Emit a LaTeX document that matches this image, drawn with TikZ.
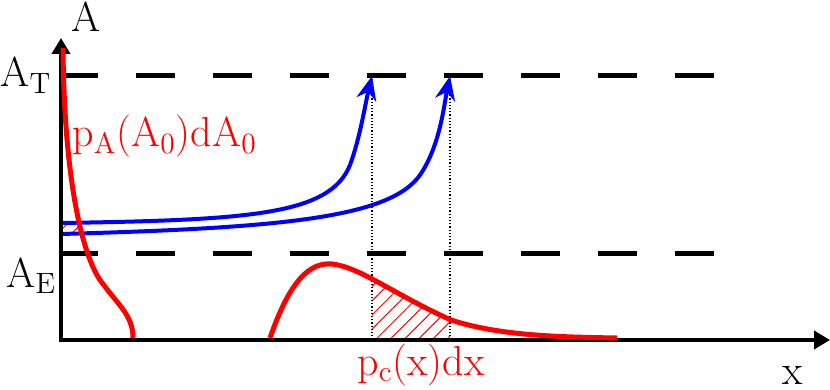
\documentclass[tikz,border=0pt]{standalone}
\usepackage{tikz}
\usetikzlibrary{arrows.meta, patterns.meta}

\begin{document}
\begin{tikzpicture}[x=0.5pt, y=-0.5pt,
  axis/.style={line width=2pt, -{Triangle[length=8pt, width=9pt]}},
  level/.style={line width=2.5pt, dash pattern=on 19.5pt off 19pt},
  pdf/.style={red, line width=2.5pt},
  traj/.style={blue, line width=2pt, -{Stealth[length=12pt, width=10pt]}},
  guide/.style={densely dotted, line width=0.6pt},
  hatch/.style={pattern={Lines[angle=45, distance=5pt, line width=0.5pt]}, pattern color=red},
  lbl/.style={inner sep=0pt, font=\fontsize{21}{25}\selectfont}
]
  \useasboundingbox (0,0) rectangle (830,390);

  \coordinate (O) at (61,340);
  \coordinate (ytop) at (61,38);
  \coordinate (xend) at (830,340);
  \coordinate (a0) at (61,223);
  \coordinate (b0) at (61,234);
  \coordinate (tipA) at (372,76);
  \coordinate (tipB) at (450,76);

  \fill[hatch] (61,225) -- (79,225) -- (81,232) -- (61,232) -- cycle;
  \begin{scope}
    \clip (372,76) rectangle (450,340);
    \fill[hatch] (270,338) .. controls (290,280) and (310,262) .. (332,264)
      .. controls (360,267) and (395,295) .. (451,320)
      .. controls (500,336) and (560,337) .. (617,338) -- cycle;
  \end{scope}

  \draw[level] (59,76) -- (718,76);
  \draw[level] (59,253) -- (718,253);

  \draw[guide] (tipA) -- (tipA |- O);
  \draw[guide] (tipB) -- (tipB |- O);

  \draw[traj] (a0) .. controls (250,220) and (330,215) .. (350,165)
    .. controls (360,138) and (365,105) .. (tipA);
  \draw[traj] (b0) .. controls (280,228) and (390,218) .. (420,175)
    .. controls (440,146) and (444,105) .. (tipB);

  \draw[axis] (O) -- (ytop);
  \draw[axis] ([xshift=-1pt]O) -- (xend);

  \draw[pdf] (63,48) .. controls (64,170) and (80,250) .. (100,280)
    .. controls (118,305) and (133,315) .. (133,338);
  \draw[pdf] (270,338) .. controls (290,280) and (310,262) .. (332,264)
    .. controls (360,267) and (395,295) .. (451,320)
    .. controls (500,336) and (560,337) .. (617,338);

  \node[lbl, anchor=base] (Alab) at (86,32) {A};
  \node[lbl, anchor=base west] (ATlab) at (0,87) {A\textsubscript{T}};
  \node[lbl, anchor=base west] (AElab) at (6,287) {A\textsubscript{E}};
  \node[lbl, red, anchor=base west] (pAlab) at (72,147) {p\textsubscript{A}(A\textsubscript{0})dA\textsubscript{0}};
  \node[lbl, red, anchor=base] (pclab) at (421,375) {p\textsubscript{c}(x)dx};
  \node[lbl, anchor=base] (xlab) at (793,384) {x};
\end{tikzpicture}
\end{document}
